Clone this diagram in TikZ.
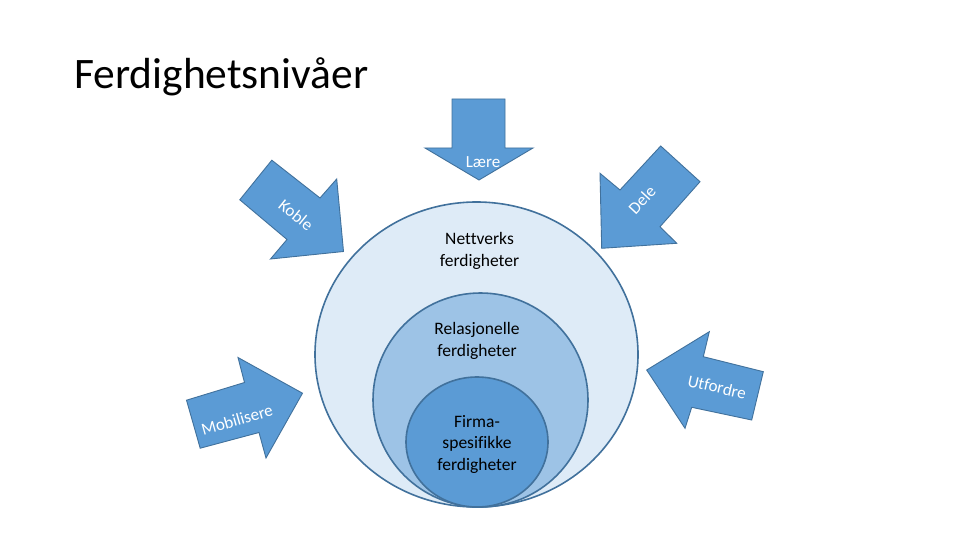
\documentclass[tikz,border=0pt]{standalone}
\usepackage{fontspec}
\setmainfont{Carlito}[Ligatures={NoCommon}]
\definecolor{outerfill}{HTML}{DEEBF7}
\definecolor{midfill}{HTML}{9DC3E6}
\definecolor{innerfill}{HTML}{5B9BD5}
\definecolor{circline}{HTML}{41719C}
\definecolor{arrowfill}{HTML}{5B9BD5}
\definecolor{arrowline}{HTML}{41719C}
\begin{document}
\begin{tikzpicture}[x=1pt,y=-1pt,
  arrowshape/.style={fill=arrowfill,draw=arrowline,line width=0.9pt,line join=miter},
  circ/.style={draw=circline,line width=1.6pt},
  lbl/.style={font=\fontsize{17.5}{21.5}\selectfont,align=center,text=black,inner sep=0pt},
  albl/.style={font=\fontsize{17}{19}\selectfont,text=white,inner sep=0pt}]
\useasboundingbox (0,0) rectangle (960,540);
\fill[white] (0,0) rectangle (960,540);

% title
\node[anchor=base west,inner sep=0pt,font=\fontsize{43.5}{50}\selectfont] (title) at (74,89) {Ferdighetsnivåer};

% nested circles
\draw[circ,fill=outerfill] (476.5,354.5) ellipse [x radius=161.5,y radius=152.5];
\draw[circ,fill=midfill] (480.5,400) ellipse [x radius=107.5,y radius=107];
\draw[circ,fill=innerfill] (477,442) ellipse [x radius=71,y radius=65];

\node[lbl] (nett) at (479.5,251) {Nettverks\\ferdigheter};
\node[lbl] (rel) at (477,341) {Relasjonelle\\ferdigheter};
\node[lbl] (firma) at (477,444) {Firma-\\spesifikke\\ferdigheter};

% arrows
\draw[arrowshape] (452,99) -- (505,99) -- (505,148) -- (533,148) -- (479,180) -- (425,148) -- (452,148) -- cycle;
\draw[arrowshape] (271.8,160.2) -- (320,198) -- (336.7,179) -- (343.5,251.5) -- (270.5,259) -- (287,239.5) -- (239.8,199.8) -- cycle;
\draw[arrowshape] (660.7,146) -- (700,181.7) -- (660,226.7) -- (676.7,243.3) -- (601.7,248.3) -- (600,173.3) -- (620,190) -- cycle;
\draw[arrowshape] (186.5,400.2) -- (244.5,382.5) -- (238,357.5) -- (302.5,393.2) -- (266,458) -- (259,432.5) -- (200.2,448.2) -- cycle;
\draw[arrowshape] (763.3,371.7) -- (703.3,356.7) -- (709.3,331.7) -- (646.7,370) -- (685,428.3) -- (691.7,407.3) -- (751.7,420) -- cycle;

\node[albl] (lare) at (483,162) {Lære};
\node[albl,rotate=-39] (koble) at (296,215) {Koble};
\node[albl,rotate=47] (dele) at (642,200) {Dele};
\node[albl,rotate=16] (mob) at (237,420) {Mobilisere};
\node[albl,rotate=-13] (utf) at (717,387) {Utfordre};
\end{tikzpicture}
\end{document}
